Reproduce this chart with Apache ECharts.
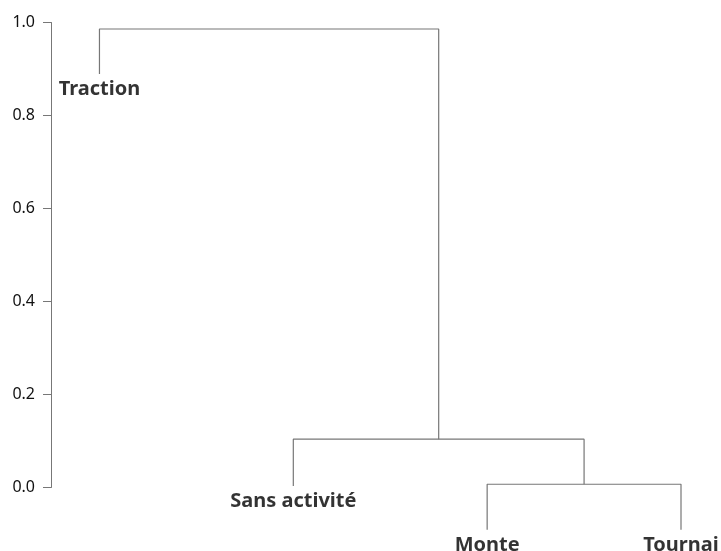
<!DOCTYPE html>
<html>
<head>
<meta charset="utf-8">
<script src="https://cdn.jsdelivr.net/npm/echarts@6/dist/echarts.min.js"></script>
<style>
  html, body { margin: 0; padding: 0; background: #fff; }
  #chart { width: 721px; height: 551px; }
</style>
</head>
<body>
<div id="chart"></div>
<script>
    // leaves, left to right
    const labels = ['Traction', 'Sans activité', 'Monte', 'Tournai'];
    // where each leaf line ends (hang below its merge)
    const leafEnds = [0.889, 0.003, -0.091, -0.091];
    // merges in hclust style: negative = leaf index, positive = earlier merge
    const merges = [[-3, -4], [-2, 1], [-1, 2]];
    const mergeHeights = [0.007, 0.104, 0.986];
    const yTicks = [0, 0.2, 0.4, 0.6, 0.8, 1.0];

    const lineColor = '#777';

    // x position + bottom of each node
    function nodeInfo(id, done) {
        if (id < 0) {
            const i = -id - 1;
            return { x: i + 1, y: leafEnds[i] };
        }
        return done[id - 1];
    }

    const segments = [];
    const done = [];
    merges.forEach(([a, b], k) => {
        const left = nodeInfo(a, done);
        const right = nodeInfo(b, done);
        const h = mergeHeights[k];
        segments.push([
            [left.x, left.y],
            [left.x, h],
            [right.x, h],
            [right.x, right.y],
        ]);
        done.push({ x: (left.x + right.x) / 2, y: h });
    });

    const chart = echarts.init(document.getElementById('chart'));
    const option = {
        backgroundColor: '#fff',
        animation: false,
        grid: {
            left: 51,
            top: 22.5,
            width: 630,
            height: 465,
        },
        xAxis: {
            type: 'value',
            min: 0.75,
            max: 4,
            show: false,
        },
        yAxis: {
            type: 'value',
            min: 0,
            max: 1,
            interval: 0.2,
            axisLine: { show: true, lineStyle: { color: lineColor, width: 1 } },
            axisTick: { show: true, length: 8, lineStyle: { color: lineColor } },
            splitLine: { show: false },
            axisLabel: {
                margin: 16,
                color: '#111',
                fontSize: 16,
                fontFamily: 'Noto Sans',
                formatter: v => yTicks.includes(+v.toFixed(1)) ? v.toFixed(1) : '',
            },
        },
        series: [
            ...segments.map(seg => ({
                type: 'line',
                data: seg,
                clip: false,
                symbol: 'none',
                silent: true,
                lineStyle: { color: lineColor, width: 1.2 },
            })),
            {
                type: 'scatter',
                clip: false,
                symbolSize: 0,
                data: labels.map((name, i) => ({ name, value: [i + 1, leafEnds[i]] })),
                label: {
                    show: true,
                    position: 'bottom',
                    distance: 5,
                    formatter: p => p.name,
                    color: '#000',
                    fontSize: 20,
                    fontWeight: 'bold',
                    fontFamily: 'Noto Sans',
                },
            },
        ],
    };
    chart.setOption(option);
</script>
</body>
</html>
